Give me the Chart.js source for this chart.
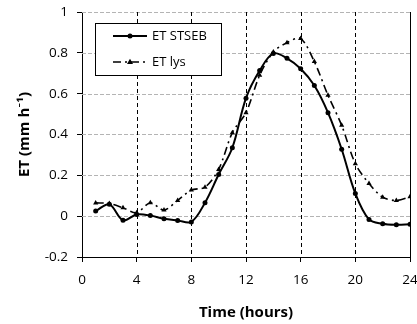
<!DOCTYPE html>
<html><head><meta charset="utf-8">
<script src="https://cdn.jsdelivr.net/npm/chart.js@4/dist/chart.umd.min.js"></script>
<style>html,body{margin:0;padding:0;background:#fff}#wrap{width:417px;height:324px}</style>
</head><body><div id="wrap"><canvas id="c" width="417" height="324"></canvas></div>
<script>
const hours = [1,2,3,4,5,6,7,8,9,10,11,12,13,14,15,16,17,18,19,20,21,22,23,24];
const etStseb = [0.025,0.058,-0.02,0.008,0.003,-0.013,-0.021,-0.028,0.066,0.204,0.335,0.578,0.713,0.797,0.773,0.722,0.64,0.507,0.328,0.111,-0.016,-0.037,-0.042,-0.04];
const etLys = [0.065,0.062,0.041,0.017,0.066,0.03,0.077,0.128,0.142,0.229,0.409,0.507,0.69,0.804,0.85,0.87,0.757,0.592,0.445,0.257,0.16,0.093,0.077,0.095];
const xTicks = [0,4,8,12,16,20,24];
const yTicks = [-0.2,0,0.2,0.4,0.6,0.8,1];
const seriesLabels = ['ET STSEB','ET lys'];
const xTitle = 'Time (hours)';
const yTitle = 'ET (mm h\u207B\u00B9)';

const FONT = '"Open Sans", Lato, sans-serif';

const gridPlugin = {
  id:'customGrid',
  beforeDatasetsDraw(chart){
    const {ctx, chartArea:a, scales:{x,y}} = chart;
    ctx.save();
    ctx.lineWidth = 1;
    ctx.strokeStyle = '#b4b4b4';
    ctx.setLineDash([4,2]);
    yTicks.forEach(v=>{ if(v<=-0.2) return;
      const py = Math.round(y.getPixelForValue(v))+0.5;
      ctx.beginPath(); ctx.moveTo(a.left,py); ctx.lineTo(a.right,py); ctx.stroke();
    });
    ctx.strokeStyle = '#000';
    ctx.setLineDash([4,3]);
    xTicks.forEach(v=>{ if(v<=0 || v>=24) return;
      const px = Math.round(x.getPixelForValue(v))+0.5;
      ctx.beginPath(); ctx.moveTo(px,a.top); ctx.lineTo(px,a.bottom); ctx.stroke();
    });
    ctx.setLineDash([]);
    const px = Math.round(x.getPixelForValue(24))+0.5;
    ctx.beginPath(); ctx.moveTo(px,a.top); ctx.lineTo(px,a.bottom); ctx.stroke();
    ctx.restore();
  }
};

const legendPlugin = {
  id:'boxLegend',
  afterDraw(chart){
    const ctx = chart.ctx;
    ctx.save();
    const bx=95.5, by=23.5, bw=126, bh=52;
    ctx.fillStyle='#fff'; ctx.fillRect(bx,by,bw,bh);
    ctx.strokeStyle='#000'; ctx.lineWidth=1; ctx.setLineDash([]);
    ctx.strokeRect(bx,by,bw,bh);
    chart.data.datasets.forEach((ds,i)=>{
      const ly = 36 + i*26;
      ctx.strokeStyle='#000'; ctx.lineWidth=ds.borderWidth;
      ctx.setLineDash(ds.borderDash||[]);
      ctx.beginPath(); ctx.moveTo(113,ly); ctx.lineTo(147,ly); ctx.stroke();
      ctx.setLineDash([]);
      ctx.fillStyle='#000';
      if(ds.pointStyle==='triangle'){
        const r=3.2; ctx.beginPath();
        ctx.moveTo(130,ly-r); ctx.lineTo(130+r*0.95,ly+r*0.6); ctx.lineTo(130-r*0.95,ly+r*0.6); ctx.closePath(); ctx.fill();
      } else { ctx.beginPath(); ctx.arc(130,ly,2.5,0,Math.PI*2); ctx.fill(); }
      ctx.font='13px '+FONT; ctx.textBaseline='middle'; ctx.textAlign='left';
      ctx.fillText(ds.label,152,ly);
    });
    ctx.restore();
  }
};

new Chart(document.getElementById('c'),{
  type:'line',
  data:{
    labels:hours,
    datasets:[
      {label:seriesLabels[0], data:hours.map((h,i)=>({x:h,y:etStseb[i]})), borderColor:'#000', backgroundColor:'#000', borderWidth:2, pointStyle:'circle', pointRadius:2.5, pointBorderWidth:0, tension:0.35},
      {label:seriesLabels[1], data:hours.map((h,i)=>({x:h,y:etLys[i]})), borderColor:'#000', backgroundColor:'#000', borderWidth:1.6, borderDash:[8,4,2,4], pointStyle:'triangle', pointRadius:3, pointBorderWidth:0, tension:0.3}
    ]
  },
  options:{
    responsive:false, animation:false, devicePixelRatio:1,
    layout:{padding:{left:0,right:0,top:12,bottom:0}},
    plugins:{legend:{display:false}, tooltip:{enabled:false}},
    scales:{
      x:{type:'linear', min:0, max:24,
        afterBuildTicks(s){ s.ticks = xTicks.map(v=>({value:v})); },
        afterFit(s){ s.height = 67; s.paddingRight = 7; s.paddingLeft = 0; },
        ticks:{font:{family:FONT,size:13.5}, color:'#000', padding:10, maxRotation:0},
        grid:{drawOnChartArea:false, drawTicks:true, tickLength:5, color:'#000'},
        border:{display:true,color:'#000',width:1},
        title:{display:true, text:xTitle, font:{family:FONT,size:15,weight:'bold'}, color:'#000', padding:{top:10,bottom:2}}
      },
      y:{min:-0.2, max:1,
        afterBuildTicks(s){ s.ticks = yTicks.map(v=>({value:v})); },
        afterFit(s){ s.width = 82; s.paddingTop = 0; s.paddingBottom = 0; },
        ticks:{font:{family:FONT,size:13.5}, color:'#000', padding:9, callback:v=>String(Math.round(v*10)/10)},
        grid:{drawOnChartArea:false, drawTicks:true, tickLength:5, color:'#000'},
        border:{display:true,color:'#000',width:1},
        title:{display:true, text:yTitle, font:{family:FONT,size:15,weight:'bold'}, color:'#000', padding:{top:16,bottom:0}}
      }
    }
  },
  plugins:[gridPlugin, legendPlugin]
});
</script></body></html>
